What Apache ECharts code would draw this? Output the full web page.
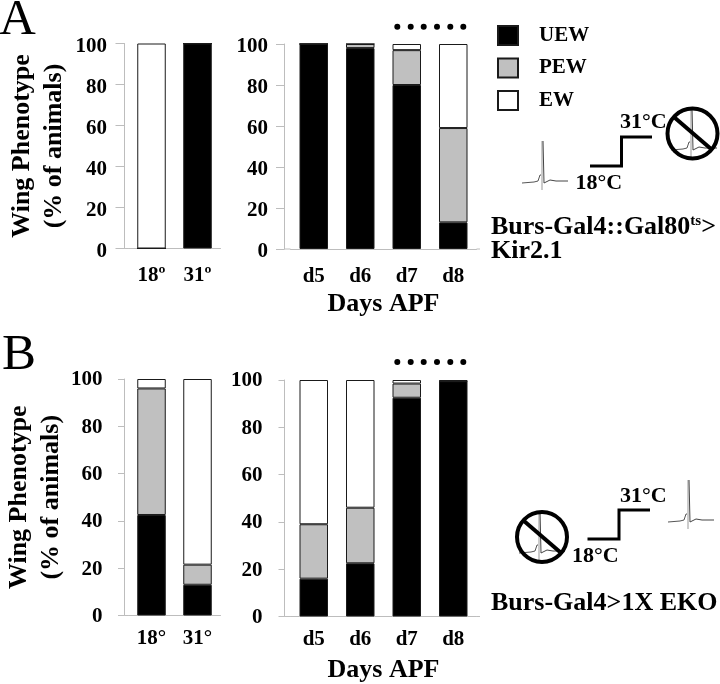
<!DOCTYPE html>
<html><head><meta charset="utf-8">
<style>html,body{margin:0;padding:0;background:#fff}#c{width:720px;height:684px}</style>
<script src="https://cdn.jsdelivr.net/npm/echarts@6/dist/echarts.min.js"></script>
</head><body><div id="c"></div>
<script>
const tempA = ['18º','31º'];
const tempB = ['18°','31°'];
const days = ['d5','d6','d7','d8'];
const phenotypes = ['UEW','PEW','EW'];
const colors = ['#000000','#c0c0c0','#ffffff'];
const yTicks = [0,20,40,60,80,100];

const aTempUEW = [0,100];
const aTempPEW = [0,0];
const aTempEW  = [100,0];
const aDayUEW = [100,98,80,13];
const aDayPEW = [0,2,17,46];
const aDayEW  = [0,0,3,41];
const bTempUEW = [42.5,13];
const bTempPEW = [53.5,8.5];
const bTempEW  = [4,78.5];
const bDayUEW = [16,22.5,92.5,99.5];
const bDayPEW = [23,23.5,6,0];
const bDayEW  = [61,54,1.5,0.5];

const serif = '"Liberation Serif","Times New Roman",serif';
const panels = [
 {cats:tempA, vals:[aTempUEW,aTempPEW,aTempEW], left:128.5, width:92, top:43.5, h:205, off:4, tick:9, lm:17.5, xm:17, lh:6, title:54},
 {cats:days,  vals:[aDayUEW,aDayPEW,aDayEW],   left:290.5, width:186, top:44, h:205, off:6, tick:8.5, lm:16.5, xm:17, lh:6, xname:true, ng:42},
 {cats:tempB, vals:[bTempUEW,bTempPEW,bTempEW], left:128.5, width:92, top:379, h:236.5, off:4, tick:6.5, lm:22, xm:13, lh:2, title:49.5},
 {cats:days,  vals:[bDayUEW,bDayPEW,bDayEW],   left:290.5, width:186, top:380, h:236.5, off:6, tick:6, lm:22, xm:13, lh:2, xname:true, ng:41}
];

const grid=[],xAxis=[],yAxis=[],series=[];
panels.forEach((p,i)=>{
  grid.push({left:p.left,width:p.width,top:p.top,height:p.h,containLabel:false,outerBoundsMode:'none'});
  xAxis.push({type:'category',gridIndex:i,data:p.cats,
    axisLine:{lineStyle:{color:'#bdbdbd',width:1}},axisTick:{show:false},
    axisLabel:{margin:p.xm,fontFamily:serif,fontWeight:'bold',fontSize:21,color:'#000'},
    name:p.xname?'Days APF':'',nameLocation:'middle',nameGap:p.ng||0,
    nameTextStyle:{fontFamily:serif,fontWeight:'bold',fontSize:26,color:'#000'}});
  yAxis.push({type:'value',gridIndex:i,min:yTicks[0],max:yTicks[yTicks.length-1],interval:yTicks[1]-yTicks[0],
    offset:p.off,splitLine:{show:false},
    axisLine:{show:true,lineStyle:{color:'#bdbdbd',width:1}},
    axisTick:{show:true,length:p.tick,lineStyle:{color:'#bdbdbd'}},
    axisLabel:{margin:p.lm,fontFamily:serif,fontWeight:'bold',fontSize:21,color:'#000',verticalAlign:'top',lineHeight:p.lh},
    name:p.title?'Wing Phenotype\n(% of animals)':'',nameLocation:'middle',nameGap:p.title||0,nameRotate:90,
    nameTextStyle:{fontFamily:serif,fontWeight:'bold',fontSize:26,lineHeight:32,color:'#000'}});
  phenotypes.forEach((n,k)=>series.push({
    type:'bar',name:n,xAxisIndex:i,yAxisIndex:i,stack:'p'+i,barWidth:28.5,data:p.vals[k],
    silent:true,animation:false,
    itemStyle:{color:colors[k],borderColor:'#1a1a1a',borderWidth:1}}));
});

const txt=(x,y,t,size,extra)=>({type:'text',x,y,silent:true,style:Object.assign({text:t,fontFamily:serif,fontWeight:'bold',fontSize:size,fill:'#000',verticalAlign:'middle'},extra||{})});
const line=(pts,w,c)=>({type:'polyline',silent:true,shape:{points:pts},style:{stroke:c,lineWidth:w,fill:null}});
const g=[];
g.push(txt(-1,21,'A',51,{fontWeight:'normal'}));
g.push(txt(2,356,'B',51,{fontWeight:'normal'}));
// axis joins between y axis and x axis start
[[124.5,248.5,128.5],[284.5,249,290.5],[124.5,615.5,128.5],[284.5,616.5,290.5]].forEach(a=>g.push(line([[a[0],a[1]],[a[2],a[1]]],1,'#bdbdbd')));
[[476.5,249,480],[476.5,616.5,480]].forEach(a=>g.push(line([[a[0],a[1]],[a[2],a[1]]],1,'#bdbdbd')));
// significance dots
[26.7,362].forEach(y=>[397.3,410.7,423.7,437,450.3,463.3].forEach(x=>g.push({type:'circle',silent:true,shape:{cx:x,cy:y,r:3},style:{fill:'#000'}})));
// spike trace helper
const spike=(x,y,s)=>[
  line([[x-20,y+1],[x-8,y],[x-4,y-1],[x-2,y-7],[x-1,y-7]],1,'#555'),
  line([[x,y-41*s],[x,y+8]],1,'#999'),
  line([[x+1,y-41*s],[x+2,y+1],[x+8,y-2],[x+14,y-1],[x+26,y-1]],1,'#444')
];
const noSign=(cx,cy,sx,sy)=>[
  ...spike(sx,sy,1),
  {type:'circle',silent:true,shape:{cx,cy,r:25},style:{fill:'none',stroke:'#000',lineWidth:4}},
  line([[cx-18,cy-16],[cx+18,cy+15]],4,'#000')
];
// Panel A annotation
g.push(line([[590,166],[621.5,166],[621.5,137],[652,137]],3,'#000'));
g.push(txt(620,122,'31°C',22));
g.push(txt(575.5,183,'18°C',22));
g.push(...spike(542,182,1));
g.push(...noSign(692.5,133.5,691,149));
g.push({type:'text',x:491,y:227,silent:true,style:{text:'Burs-Gal4::Gal80{s|ts}>',rich:{s:{fontFamily:serif,fontWeight:'bold',fontSize:15,fill:'#000',verticalAlign:'top',padding:[0,0,10,0]}},fontFamily:serif,fontWeight:'bold',fontSize:26,fill:'#000',verticalAlign:'middle'}});
g.push(txt(491,251,'Kir2.1',26));
// Panel B annotation
g.push(line([[587.5,539],[619,539],[619,510],[650,510]],3,'#000'));
g.push(txt(620,496,'31°C',22));
g.push(txt(572,556.5,'18°C',22));
g.push(...spike(688,521,1));
g.push(...noSign(542,537,539,552));
g.push(txt(491,603,'Burs-Gal4>1X EKO',26));

const chart=echarts.init(document.getElementById('c'),null,{renderer:'canvas'});
chart.setOption({
  backgroundColor:'#fff',animation:false,
  legend:{data:phenotypes,orient:'vertical',left:497,top:25,padding:0,itemWidth:20,itemHeight:19,itemGap:11.5,icon:'rect',selectedMode:false,
    textStyle:{fontFamily:serif,fontWeight:'bold',fontSize:21,color:'#000',padding:[0,0,0,16]}},
  tooltip:{show:false},grid,xAxis,yAxis,series,graphic:{elements:g}
});
</script></body></html>
